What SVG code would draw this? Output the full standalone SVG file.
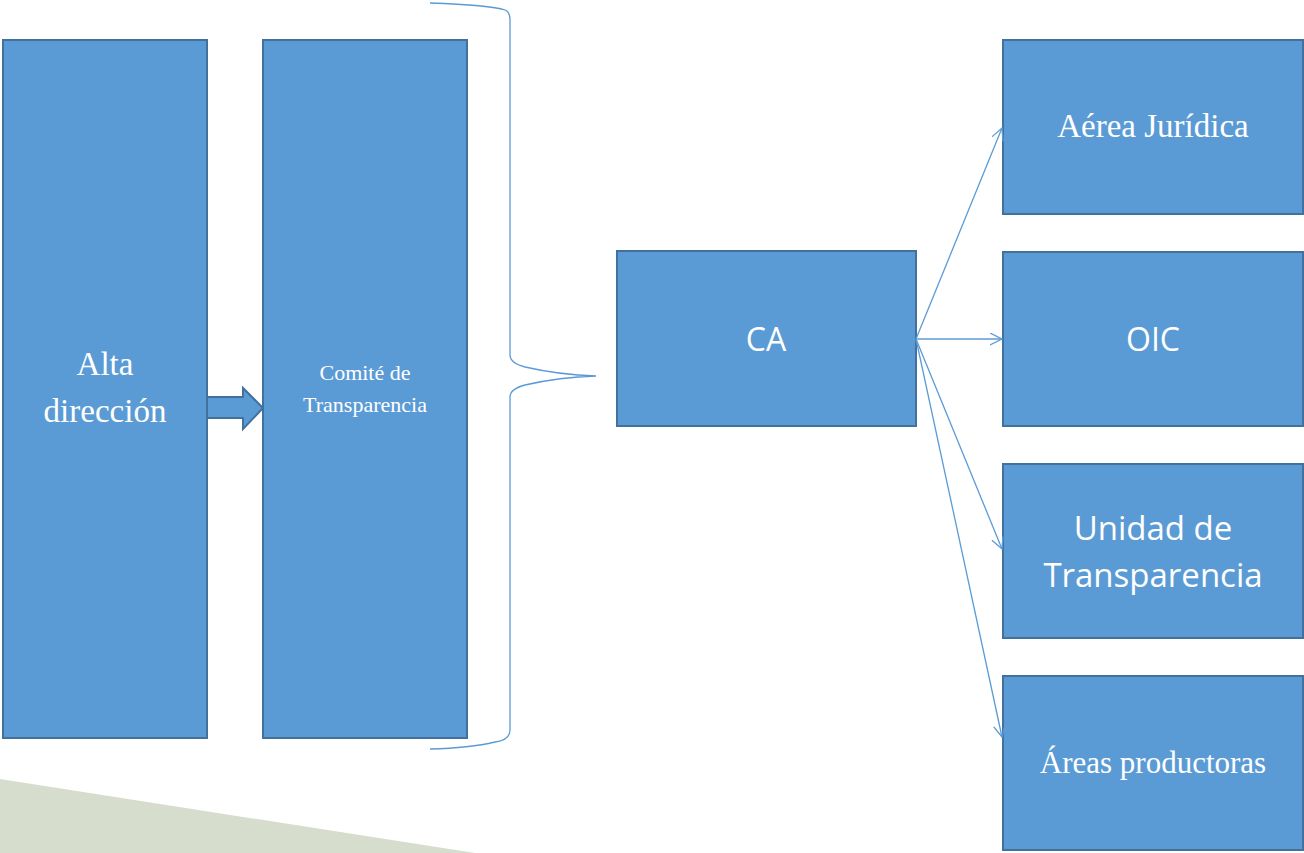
<svg xmlns="http://www.w3.org/2000/svg" width="1304" height="853" viewBox="0 0 1304 853">
<defs>
<style>
.box{fill:#5B9BD5;stroke:#41719C;stroke-width:2}
.serif{font-family:"Liberation Serif","DejaVu Serif",serif;fill:#fff;text-anchor:middle}
.sans{font-family:"Open Sans","Liberation Sans",sans-serif;fill:#fff;text-anchor:middle}
.con{stroke:#5B9BD5;stroke-width:1.3;fill:none}
</style>
<marker id="open" markerWidth="14" markerHeight="14" refX="12" refY="6" orient="auto" markerUnits="userSpaceOnUse">
<path d="M0,0 L12,6 L0,12" fill="none" stroke="#5B9BD5" stroke-width="1.3"/>
</marker>
</defs>
<rect width="1304" height="853" fill="#fff"/>
<polygon points="0,779 475,853 0,853" fill="#D6DDCC"/>
<g id="alta">
<rect class="box" x="3" y="40" width="204" height="698"/>
<text class="serif" font-size="33" x="105" y="375">Alta</text>
<text class="serif" font-size="33" x="105" y="422">dirección</text>
</g>
<g id="comite">
<rect class="box" x="263" y="40" width="204" height="698"/>
<text class="serif" font-size="22" x="365" y="380">Comité de</text>
<text class="serif" font-size="22" x="365" y="412">Transparencia</text>
</g>
<g id="ca">
<rect class="box" x="617" y="251" width="299" height="175"/>
<text class="sans" font-size="32" x="766" y="351">CA</text>
</g>
<g id="juridica">
<rect class="box" x="1003" y="40" width="300" height="174"/>
<text class="serif" font-size="33" x="1153" y="137">Aérea Jurídica</text>
</g>
<g id="oic">
<rect class="box" x="1003" y="252" width="300" height="174"/>
<text class="sans" font-size="32" x="1153" y="351">OIC</text>
</g>
<g id="unidad">
<rect class="box" x="1003" y="464" width="300" height="174"/>
<text class="sans" font-size="33" x="1153" y="540">Unidad de</text>
<text class="sans" font-size="33" x="1153" y="587">Transparencia</text>
</g>
<g id="areas">
<rect class="box" x="1003" y="676" width="300" height="174"/>
<text class="serif" font-size="31" x="1153" y="773">Áreas productoras</text>
</g>
<g id="connectors">
<polygon points="207,397 243,397 243,388 263,408 243,429 243,418 207,418" fill="#5B9BD5" stroke="#41719C" stroke-width="2"/>
<path class="con" d="M430,3 Q490,5 505,10 Q510,12 510,20 L510,355 Q510,363 525,367 Q560,375 596,376 Q560,377 525,385 Q510,389 510,397 L510,730 Q510,740 495,742 Q470,748 430,749"/>
<line class="con" x1="916" y1="339" x2="1002" y2="128" marker-end="url(#open)"/>
<line class="con" x1="916" y1="339" x2="1002" y2="339" marker-end="url(#open)"/>
<line class="con" x1="916" y1="339" x2="1002" y2="549" marker-end="url(#open)"/>
<line class="con" x1="916" y1="339" x2="1002" y2="737" marker-end="url(#open)"/>
</g>
</svg>
